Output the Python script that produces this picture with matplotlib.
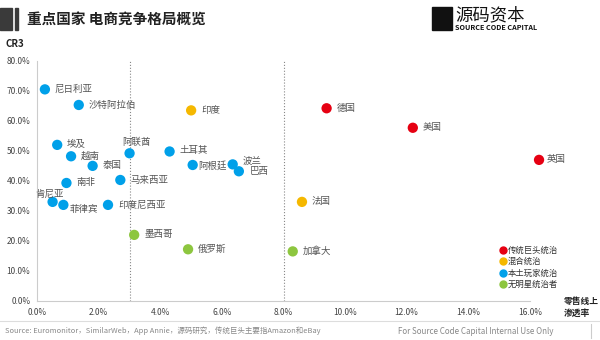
import matplotlib.pyplot as plt
import matplotlib.patches as patches
from matplotlib.lines import Line2D
from matplotlib.ticker import PercentFormatter

plt.rcParams['font.family'] = ['Noto Sans CJK SC', 'DejaVu Sans']

# data (x: online retail penetration %, y: CR3 %)
countries = ['尼日利亚', '沙特阿拉伯', '印度', '德国', '美国', '英国', '埃及', '越南', '泰国',
             '阿联酋', '土耳其', '阿根廷', '波兰', '巴西', '马来西亚', '南非', '肯尼亚', '菲律宾',
             '印度尼西亚', '法国', '墨西哥', '俄罗斯', '加拿大']
penetration = [0.25, 1.35, 5.0, 9.4, 12.2, 16.3, 0.65, 1.1, 1.8,
               3.0, 4.3, 5.05, 6.35, 6.55, 2.7, 0.95, 0.5, 0.85,
               2.3, 8.6, 3.15, 4.9, 8.3]
cr3 = [70.5, 65.3, 63.5, 64.2, 57.7, 47.0, 52.0, 48.2, 45.0,
       49.2, 49.8, 45.3, 45.5, 43.2, 40.3, 39.3, 33.0, 32.0,
       32.0, 33.0, 22.0, 17.2, 16.5]
group = ['local', 'local', 'mixed', 'giant', 'giant', 'giant', 'local', 'local', 'local',
         'local', 'local', 'local', 'local', 'local', 'local', 'local', 'local', 'local',
         'local', 'mixed', 'none', 'none', 'none']

group_names = ['giant', 'mixed', 'local', 'none']
group_labels = ['传统巨头统治', '混合统治', '本土玩家统治', '无明星统治者']
group_colors = {'giant': '#e60012', 'mixed': '#f5b800', 'local': '#00a0e9', 'none': '#8dc63f'}

divider_x = [3.0, 8.0]
x_ticks = [0, 2, 4, 6, 8, 10, 12, 14, 16]
y_ticks = [0, 10, 20, 30, 40, 50, 60, 70, 80]

# label offsets in pixels (default: to the right)
offsets = {'阿联酋': (-7, 11), '肯尼亚': (-17, 8), '菲律宾': (6, -5), '波兰': (10, 3),
           '巴西': (11, 0), '阿根廷': (6, -1), '英国': (8, 0), '土耳其': (10, 1)}

fig = plt.figure(figsize=(6, 3.4), dpi=100)
ax = fig.add_axes([0.062, 0.115, 0.821, 0.706])

for g in group_names:
    xs = [x for x, gg in zip(penetration, group) if gg == g]
    ys = [y for y, gg in zip(cr3, group) if gg == g]
    ax.scatter(xs, ys, s=55, color=group_colors[g], edgecolors='none', zorder=3, clip_on=False)

for name, x, y in zip(countries, penetration, cr3):
    dx, dy = offsets.get(name, (10, 0))
    ax.annotate(name, (x, y), xytext=(dx, dy), textcoords='offset pixels',
                fontsize=6.8, color='#555555', va='center', ha='left',
                annotation_clip=False)

for dx in divider_x:
    ax.axvline(dx, color='#888888', lw=0.8, ls=':', zorder=1)

ax.set_xlim(0, 16)
ax.set_ylim(0, 80)
ax.set_xticks(x_ticks)
ax.set_yticks(y_ticks)
ax.xaxis.set_major_formatter(PercentFormatter(decimals=1))
ax.yaxis.set_major_formatter(PercentFormatter(decimals=1))
ax.tick_params(length=0, labelsize=6, labelcolor='#444444', pad=5)
for s in ['top', 'right']:
    ax.spines[s].set_visible(False)
for s in ['left', 'bottom']:
    ax.spines[s].set_color('#cccccc')
    ax.spines[s].set_linewidth(0.8)

handles = [Line2D([], [], marker='o', ls='none', color=group_colors[g], markersize=5)
           for g in group_names]
ax.legend(handles, group_labels, loc='upper left', bbox_to_anchor=(0.93, 0.245),
          frameon=False, fontsize=6, handletextpad=0.1, labelspacing=0.3,
          borderaxespad=0, handlelength=1, labelcolor='#333333')

# header
fig.add_artist(patches.Rectangle((0.0, 1 - 30 / 340), 12 / 600, 22 / 340,
                                 transform=fig.transFigure, color='#3a3a3a'))
fig.add_artist(patches.Rectangle((15 / 600, 1 - 30 / 340), 2.5 / 600, 22 / 340,
                                 transform=fig.transFigure, color='#3a3a3a'))
fig.text(27 / 600, 1 - 19 / 340, '重点国家 电商竞争格局概览', fontsize=10.5,
         fontweight='bold', color='#222222', va='center')
fig.add_artist(patches.Rectangle((432 / 600, 1 - 30 / 340), 20 / 600, 23 / 340,
                                 transform=fig.transFigure, color='#111111'))
fig.text(455 / 600, 1 - 15 / 340, '源码资本', fontsize=12.5, color='#111111', va='center')
fig.text(455 / 600, 1 - 27 / 340, 'SOURCE CODE CAPITAL', fontsize=5.2,
         fontweight='bold', color='#111111', va='center')

fig.text(6 / 600, 1 - 44 / 340, 'CR3', fontsize=7, fontweight='bold', color='#222222',
         va='center')
fig.text(564 / 600, 1 - 307 / 340, '零售线上\n渗透率', fontsize=6.3, fontweight='bold',
         color='#222222', va='center', linespacing=1.4)

# footer
fig.add_artist(Line2D([0, 1], [1 - 321 / 340] * 2, transform=fig.transFigure,
                      color='#dddddd', lw=0.8))
fig.text(5 / 600, 1 - 331 / 340,
         'Source: Euromonitor，SimilarWeb，App Annie，源码研究，传统巨头主要指Amazon和eBay',
         fontsize=5.4, color='#888888', va='center')
fig.text(398 / 600, 1 - 331 / 340, 'For Source Code Capital Internal Use Only',
         fontsize=5.8, color='#888888', va='center')
fig.add_artist(Line2D([591 / 600] * 2, [1 - 338 / 340, 1 - 324 / 340],
                      transform=fig.transFigure, color='#cccccc', lw=0.8))

fig.savefig('out.png', dpi=100)
